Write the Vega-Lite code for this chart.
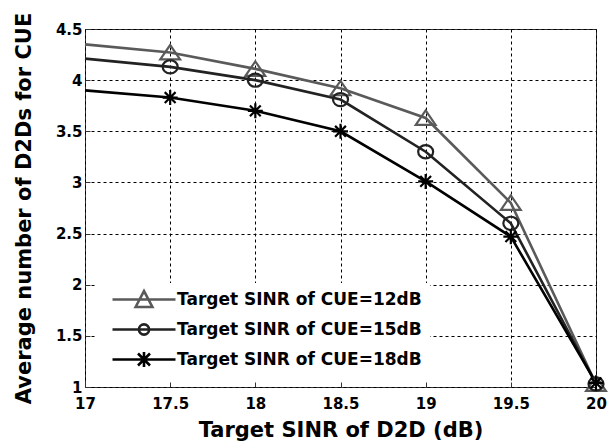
{
  "$schema": "https://vega.github.io/schema/vega-lite/v6.json",
  "width": 511,
  "height": 358,
  "autosize": "none",
  "padding": {"left": 85, "top": 29, "right": 18, "bottom": 58},
  "background": "white",
  "config": {
    "view": {"stroke": "#333333", "strokeWidth": 1},
    "font": "DejaVu Sans",
    "axis": {
      "labelFont": "DejaVu Sans", "labelFontWeight": "bold", "labelFontSize": 15, "labelColor": "black",
      "titleFont": "DejaVu Sans", "titleFontWeight": "bold", "titleFontSize": 21, "titleColor": "black",
      "grid": true, "gridColor": "black", "gridDash": [3, 3], "gridWidth": 1, "gridOpacity": 1,
      "domain": false, "ticks": true, "tickSize": -5, "tickColor": "#333333", "tickWidth": 1,
      "labelFlush": false, "labelOverlap": false
    }
  },
  "data": {
    "values": [
      {"x": 17, "y": 4.35, "series": "Target SINR of CUE=12dB"},
      {"x": 17.5, "y": 4.27, "series": "Target SINR of CUE=12dB"},
      {"x": 18, "y": 4.11, "series": "Target SINR of CUE=12dB"},
      {"x": 18.5, "y": 3.92, "series": "Target SINR of CUE=12dB"},
      {"x": 19, "y": 3.63, "series": "Target SINR of CUE=12dB"},
      {"x": 19.5, "y": 2.8, "series": "Target SINR of CUE=12dB"},
      {"x": 20, "y": 1.03, "series": "Target SINR of CUE=12dB"},
      {"x": 17, "y": 4.21, "series": "Target SINR of CUE=15dB"},
      {"x": 17.5, "y": 4.13, "series": "Target SINR of CUE=15dB"},
      {"x": 18, "y": 4.0, "series": "Target SINR of CUE=15dB"},
      {"x": 18.5, "y": 3.81, "series": "Target SINR of CUE=15dB"},
      {"x": 19, "y": 3.3, "series": "Target SINR of CUE=15dB"},
      {"x": 19.5, "y": 2.6, "series": "Target SINR of CUE=15dB"},
      {"x": 20, "y": 1.03, "series": "Target SINR of CUE=15dB"},
      {"x": 17, "y": 3.9, "series": "Target SINR of CUE=18dB"},
      {"x": 17.5, "y": 3.83, "series": "Target SINR of CUE=18dB"},
      {"x": 18, "y": 3.7, "series": "Target SINR of CUE=18dB"},
      {"x": 18.5, "y": 3.5, "series": "Target SINR of CUE=18dB"},
      {"x": 19, "y": 3.01, "series": "Target SINR of CUE=18dB"},
      {"x": 19.5, "y": 2.47, "series": "Target SINR of CUE=18dB"},
      {"x": 20, "y": 1.04, "series": "Target SINR of CUE=18dB"}
    ]
  },
  "encoding": {
    "x": {
      "field": "x", "type": "quantitative",
      "scale": {"domain": [17, 20], "nice": false, "zero": false},
      "axis": {"values": [17, 17.5, 18, 18.5, 19, 19.5, 20], "format": "~g", "labelPadding": 14, "title": "Target SINR of D2D (dB)", "titlePadding": 8}
    },
    "y": {
      "field": "y", "type": "quantitative",
      "scale": {"domain": [1, 4.5], "nice": false, "zero": false},
      "axis": {"values": [1, 1.5, 2, 2.5, 3, 3.5, 4, 4.5], "format": "~g", "labelPadding": 8, "title": "Average number of D2Ds for CUE", "titlePadding": 21}
    },
    "color": {
      "field": "series", "type": "nominal",
      "scale": {"range": ["#5a5a5a", "#222222", "#000000"]},
      "legend": {
        "title": null, "orient": "none", "legendX": 11, "legendY": 254,
        "fillColor": "white", "padding": 8,
        "labelFont": "DejaVu Sans", "labelFontWeight": "bold", "labelFontSize": 17, "labelColor": "black",
        "labelLimit": 400, "labelOffset": 56, "symbolSize": 36, "symbolStrokeWidth": 2.6, "rowPadding": 6,
        "encode": {
          "symbols": {
            "update": {
              "shape": {"signal": "datum.index === 0 ? 'M0,0H21M7.7,2.5L10.5,-2.8L13.3,2.5Z' : datum.index === 1 ? 'M0,0H21M8.8,0A1.7,1.7 0 1,0 12.2,0A1.7,1.7 0 1,0 8.8,0' : 'M0,0H21M10.5,-2.5V2.5M8.5,-2L12.5,2M8.5,2L12.5,-2'"},
              "fill": {"value": "transparent"},
              "stroke": {"signal": "scale('color', datum.value)"},
              "strokeWidth": {"value": 2.6},
              "opacity": {"value": 1}
            }
          }
        }
      }
    }
  },
  "layer": [
    {
      "mark": {"type": "line", "strokeWidth": 2.6},
      "encoding": {}
    },
    {
      "transform": [{"filter": {"field": "x", "gt": 17}}],
      "mark": {"type": "point", "filled": false, "strokeWidth": 2.2, "size": 36, "opacity": 1},
      "encoding": {
        "shape": {
          "field": "series", "type": "nominal",
          "scale": {"range": [
            "M-3.3,2.3L0,-2.5L3.3,2.3Z",
            "M-2.5,0A2.5,2.2 0 1,0 2.5,0A2.5,2.2 0 1,0 -2.5,0",
            "M-2.5,0H2.5M0,-2.5V2.5M-1.8,-1.8L1.8,1.8M-1.8,1.8L1.8,-1.8"
          ]},
          "legend": null
        }
      }
    }
  ]
}
